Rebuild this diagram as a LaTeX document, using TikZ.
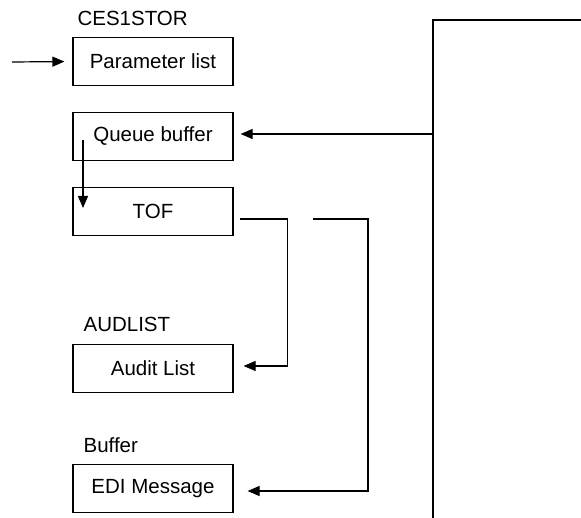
\documentclass[tikz,border=0pt]{standalone}
\usepackage{fontspec}
\setmainfont{Liberation Sans}
\usetikzlibrary{arrows.meta,positioning}

\begin{document}
\begin{tikzpicture}[
    x=1pt, y=-1pt,
    line width=1.2pt,
    box_node/.style={rectangle, draw=black, line width=1.2pt, minimum width=160pt, minimum height=48pt, inner sep=0pt, font=\fontsize{20.5}{24}\selectfont},
    name_node/.style={anchor=base west, inner sep=0pt, font=\fontsize{20.5}{24}\selectfont},
    arrow/.style={-{Triangle[length=12pt, width=10pt]}},
    line/.style={-}
]
\useasboundingbox[fill=white] (0,0) rectangle (581,518);

% Storage areas
\node[box_node] (param) at (153,61.5) {Parameter list};
\node[box_node] (queue) at (153,136.5) {Queue buffer};
\node[box_node] (tof) at (153,211.5) {TOF};
\node[box_node] (audit) at (153,368.5) {Audit List};
\node[box_node] (edi) at (153,488.5) {EDI Message};

% Names above
\node[name_node] (lbl_ces) at (77,26) {CES1STOR};
\node[name_node] (lbl_aud) at (83,332) {AUDLIST};
\node[name_node] (lbl_buf) at (83,452) {Buffer};

% Trunk line on the right
\coordinate (trunk_end) at (581,20);
\coordinate (trunk_top) at (433,20);
\coordinate (trunk_q) at (433,134);
\coordinate (trunk_bot) at (433,518);
\draw[line] (trunk_end) -- (trunk_top) -- (trunk_bot);

% Connections
\coordinate (in) at (12,62);
\coordinate (q_drop) at (83,140);
\coordinate (t_in) at (83,208);
\coordinate (e_start) at (313,219);

\draw[arrow, shorten >=8pt] (in) -- (param.west);
\draw[arrow, shorten >=7pt] (trunk_q) -- (queue.east |- trunk_q);
\draw[arrow] (q_drop) -- (t_in);
\draw[arrow, shorten <=6pt, shorten >=10pt] ([yshift=-7.5pt]tof.east) -- ++(54,0) |- ([yshift=2.5pt]audit.east);
\draw[arrow, shorten >=14pt] (e_start) -- ++(55,0) |- ([yshift=-2.5pt]edi.east);

\end{tikzpicture}
\end{document}
